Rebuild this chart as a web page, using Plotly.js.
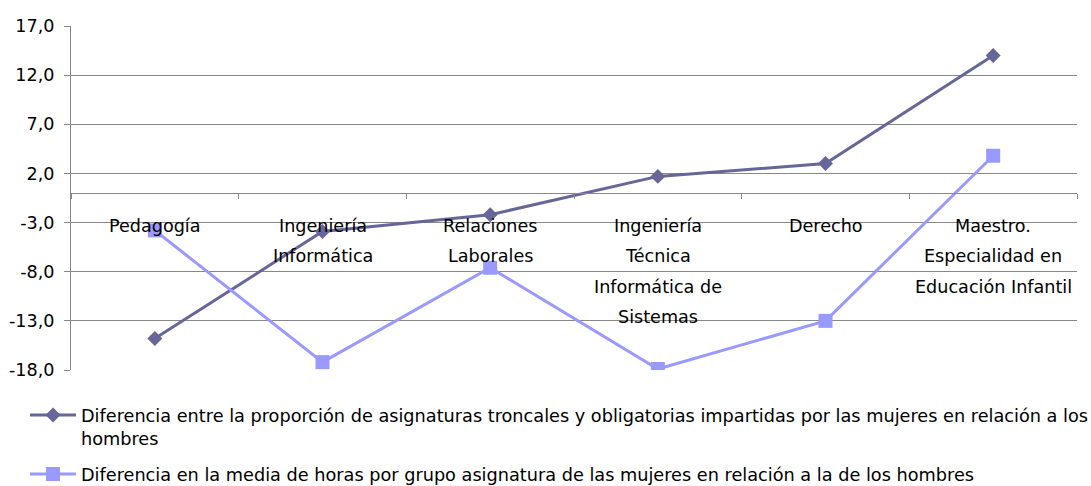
<!DOCTYPE html>
<html>
<head>
<meta charset="utf-8">
<script src="https://cdn.plot.ly/plotly-3.0.1.min.js"></script>
<style>
  html, body { margin: 0; padding: 0; background: #ffffff; }
  #chart { width: 1091px; height: 486px; }
</style>
</head>
<body>
<div id="chart"></div>
<script>
// ---- data ----
var categories = [
  'Pedagogía',
  'Ingeniería Informática',
  'Relaciones Laborales',
  'Ingeniería Técnica Informática de Sistemas',
  'Derecho',
  'Maestro. Especialidad en Educación Infantil'
];
// wrapped category labels (as shown under the axis)
var categoryLabelLines = [
  ['Pedagogía'],
  ['Ingeniería', 'Informática'],
  ['Relaciones', 'Laborales'],
  ['Ingeniería', 'Técnica', 'Informática de', 'Sistemas'],
  ['Derecho'],
  ['Maestro.', 'Especialidad en', 'Educación Infantil']
];
var seriesNames = [
  'Diferencia entre la proporción de asignaturas troncales y obligatorias impartidas por las mujeres en relación a los<br>hombres',
  'Diferencia en la media de horas por grupo asignatura de las mujeres en relación a la de los hombres'
];
var proporcionTroncales = [-14.8, -3.9, -2.2, 1.7, 3.0, 14.0];
var mediaHoras = [-3.8, -17.2, -7.6, -17.9, -13.0, 3.8];
var yTickVals = [-18, -13, -8, -3, 2, 7, 12, 17];
var yTickText = ['-18,0', '-13,0', '-8,0', '-3,0', '2,0', '7,0', '12,0', '17,0'];

// ---- chart ----
var FONT = 'DejaVu Sans, Verdana, sans-serif';
var yMin = -18, yMax = 17;

var traces = [
  {
    x: categories, y: proporcionTroncales, name: seriesNames[0],
    type: 'scatter', mode: 'lines+markers', legendgroup: 'a',
    line: { color: '#666699', width: 3 },
    marker: { symbol: 'diamond', size: 11.5, color: '#666699' }
  },
  {
    x: categories, y: mediaHoras, name: seriesNames[1],
    type: 'scatter', mode: 'lines+markers', legendgroup: 'b',
    line: { color: '#9999FF', width: 3 },
    marker: { symbol: 'square', size: 14, color: '#9999FF' }
  }
];

var annotations = [];
categoryLabelLines.forEach(function (lines, i) {
  lines.forEach(function (txt, j) {
    annotations.push({
      x: categories[i], y: 0, xref: 'x', yref: 'y',
      text: txt, showarrow: false,
      xanchor: 'center', yanchor: 'middle',
      yshift: -(32.5 + 30.5 * j),
      font: { family: FONT, size: 17.6, color: '#000000' }
    });
  });
});

var layout = {
  width: 1091, height: 486,
  margin: { l: 71, r: 14, t: 26, b: 116, autoexpand: false },
  paper_bgcolor: '#ffffff', plot_bgcolor: '#ffffff',
  font: { family: FONT, size: 17, color: '#000000' },
  showlegend: true,
  xaxis: {
    type: 'category',
    range: [-0.5, categories.length - 0.5],
    anchor: 'free',
    position: (0 - yMin) / (yMax - yMin),
    showgrid: false, zeroline: false,
    showline: true, linecolor: '#888888', linewidth: 1,
    ticks: 'outside', tickson: 'boundaries', ticklen: 5, tickcolor: '#888888',
    showticklabels: false,
    fixedrange: true
  },
  yaxis: {
    range: [yMin, yMax],
    tickvals: yTickVals, ticktext: yTickText,
    showgrid: true, gridcolor: '#888888', gridwidth: 1,
    zeroline: false,
    showline: true, linecolor: '#888888', linewidth: 1,
    ticks: 'outside', ticklen: 6, tickcolor: '#888888',
    ticklabelstandoff: 6,
    tickfont: { family: FONT, size: 17.6, color: '#000000' },
    fixedrange: true
  },
  legend: {
    orientation: 'v',
    x: (25 - 71) / 1006, xanchor: 'left',
    y: (370 - 397) / 344, yanchor: 'top',
    valign: 'top',
    itemwidth: 46,
    tracegroupgap: 10,
    font: { family: FONT, size: 17.7, color: '#000000' },
    bgcolor: 'rgba(0,0,0,0)'
  },
  annotations: annotations
};

Plotly.newPlot('chart', traces, layout, { displayModeBar: false, staticPlot: true });
</script>
</body>
</html>
